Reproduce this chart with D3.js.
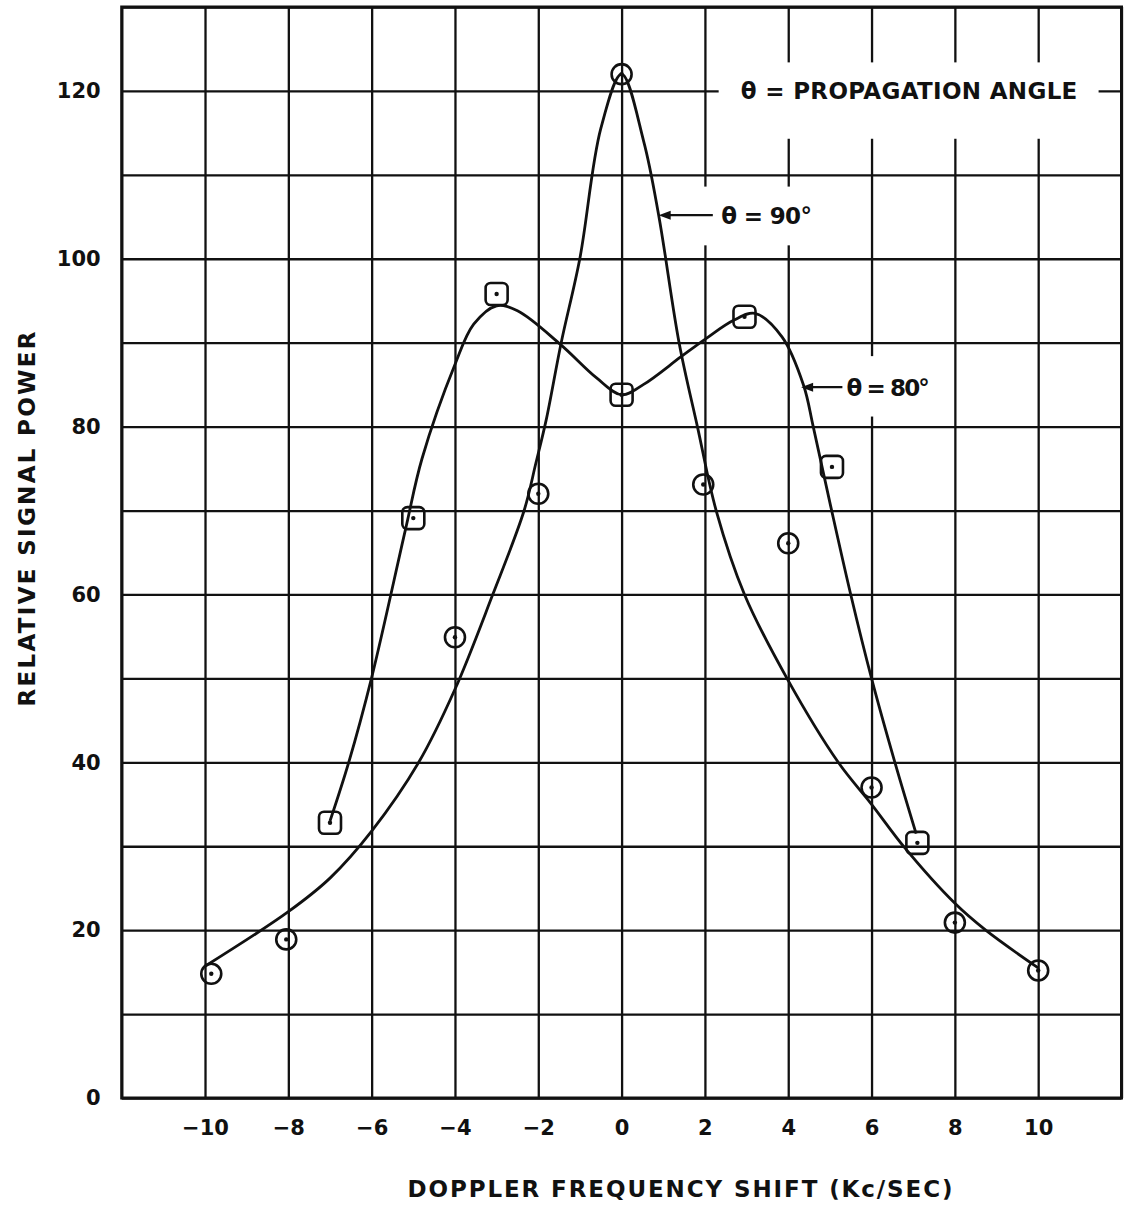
<!DOCTYPE html>
<meta charset="utf-8">
<head>
	<title>Doppler Frequency Shift</title>
	<script type="text/javascript" src="https://cdnjs.cloudflare.com/ajax/libs/d3/7.8.5/d3.min.js"></script>
	<style>
		body { margin: 0; background: #fff; }
		text { font-family: "DejaVu Sans", sans-serif; font-weight: bold; fill: #111; }
	</style>
</head>

<body>
	<div id="chart"></div>

<script>
	var xTicks = [-10, -8, -6, -4, -2, 0, 2, 4, 6, 8, 10];
	var yTicks = [0, 20, 40, 60, 80, 100, 120];

	// theta = 90 deg, plotted points (circles)
	var circlesX = [-9.85, -8.05, -4, -2, 0, 1.96, 4, 6, 8, 10];
	var circlesY = [14.8, 18.9, 54.9, 72, 122, 73.1, 66.1, 37, 20.9, 15.2];

	// theta = 80 deg, plotted points (squares)
	var squaresX = [-7, -5, -3, 0, 2.95, 5.05, 7.1];
	var squaresY = [32.8, 69.1, 95.8, 83.8, 93.1, 75.2, 30.4];

	// hand drawn curves
	var curve90X = [-10, -8, -7, -6, -4.87, -4, -3.1, -2.34, -2.06, -1.81, -1.45, -1.0, -0.5, 0, 0.53, 0.89, 1.38, 1.82, 2.27, 2.95, 3.97, 5.2, 6, 6.8, 8, 8.74, 10];
	var curve90Y = [15.7, 22.2, 26.2, 31.8, 40, 48.7, 59.9, 70, 75.6, 80.8, 90, 100.1, 115.5, 122, 114, 105.2, 90, 80, 70, 60, 50, 40, 35, 29.8, 23.2, 20, 15.5];

	var curve80X = [-7, -6.55, -6, -5.19, -4.79, -4, -3.55, -3, -2.5, -1.47, -0.6, 0, 0.52, 1.42, 2, 2.7, 3.2, 3.85, 4.37, 4.6, 5.02, 5.5, 6, 6.56, 7.07];
	var curve80Y = [33, 40, 50.1, 67.7, 76.2, 87.4, 92.2, 94.4, 93.8, 89.8, 85.8, 83.8, 85, 88.3, 90.4, 92.7, 93.5, 90.7, 84.9, 80, 70.5, 60, 50, 40, 31.5];

	var width = 1126, height = 1206;

	var x = d3.scaleLinear().domain([-12, 12]).range([121.7, 1121.5]);
	var y = d3.scaleLinear().domain([0, 130]).range([1098, 7]);

	var svg = d3.select("#chart").append("svg")
		.attr("width", width)
		.attr("height", height);

	svg.append("rect")
		.attr("width", width)
		.attr("height", height)
		.attr("fill", "#fff");

	// grid
	svg.append("g")
		.attr("class", "grid")
		.attr("transform", "translate(0," + y(0) + ")")
		.call(d3.axisBottom(x).tickValues(d3.range(-12, 13, 2)).tickSize(-(y(0) - y(130))).tickFormat(""));

	svg.append("g")
		.attr("class", "grid")
		.attr("transform", "translate(" + x(-12) + ",0)")
		.call(d3.axisLeft(y).tickValues(d3.range(0, 131, 10)).tickSize(-(x(12) - x(-12))).tickFormat(""));

	svg.selectAll(".grid .domain").remove();
	svg.selectAll(".grid line")
		.attr("stroke", "#111")
		.attr("stroke-width", 2.3);

	// border
	svg.append("rect")
		.attr("x", x(-12))
		.attr("y", y(130))
		.attr("width", x(12) - x(-12))
		.attr("height", y(0) - y(130))
		.attr("fill", "none")
		.attr("stroke", "#111")
		.attr("stroke-width", 3);

	// white patches behind the notes
	var boxes = [[2.33, 11.45, 114.3, 123.4], [1.5, 4.8, 101.6, 108.6], [5.45, 7.6, 81.2, 88.4]];
	svg.selectAll(".notebox")
		.data(boxes)
		.enter().append("rect")
		.attr("class", "notebox")
		.attr("x", function(d) { return x(d[0]); })
		.attr("y", function(d) { return y(d[3]); })
		.attr("width", function(d) { return x(d[1]) - x(d[0]); })
		.attr("height", function(d) { return y(d[2]) - y(d[3]); })
		.attr("fill", "#fff");

	// curves
	var line = d3.line()
		.x(function(d) { return x(d[0]); })
		.y(function(d) { return y(d[1]); })
		.curve(d3.curveCatmullRom.alpha(0.5));

	var curves = [d3.zip(curve90X, curve90Y), d3.zip(curve80X, curve80Y)];

	svg.selectAll(".curve")
		.data(curves)
		.enter().append("path")
		.attr("class", "curve")
		.attr("d", line)
		.attr("fill", "none")
		.attr("stroke", "#111")
		.attr("stroke-width", 2.8);

	// markers
	var circlePts = d3.zip(circlesX, circlesY);
	var squarePts = d3.zip(squaresX, squaresY);

	svg.selectAll(".pt-circle")
		.data(circlePts)
		.enter().append("circle")
		.attr("class", "pt-circle")
		.attr("cx", function(d) { return x(d[0]); })
		.attr("cy", function(d) { return y(d[1]); })
		.attr("r", 10)
		.attr("fill", "none")
		.attr("stroke", "#111")
		.attr("stroke-width", 2.6);

	svg.selectAll(".pt-square")
		.data(squarePts)
		.enter().append("rect")
		.attr("class", "pt-square")
		.attr("x", function(d) { return x(d[0]) - 11; })
		.attr("y", function(d) { return y(d[1]) - 11; })
		.attr("width", 22)
		.attr("height", 22)
		.attr("rx", 5)
		.attr("fill", "none")
		.attr("stroke", "#111")
		.attr("stroke-width", 2.6);

	svg.selectAll(".pt-dot")
		.data(circlePts.concat(squarePts))
		.enter().append("circle")
		.attr("class", "pt-dot")
		.attr("cx", function(d) { return x(d[0]); })
		.attr("cy", function(d) { return y(d[1]); })
		.attr("r", 2.2)
		.attr("fill", "#111");

	// axes labels
	svg.append("g")
		.attr("class", "xaxis")
		.attr("transform", "translate(0," + y(0) + ")")
		.call(d3.axisBottom(x).tickValues(xTicks).tickSize(0).tickPadding(22));

	svg.append("g")
		.attr("class", "yaxis")
		.attr("transform", "translate(" + x(-12) + ",0)")
		.call(d3.axisLeft(y).tickValues(yTicks).tickSize(0).tickPadding(21));

	svg.selectAll(".xaxis .domain, .yaxis .domain").remove();
	svg.selectAll(".xaxis text, .yaxis text")
		.attr("font-family", "DejaVu Sans, sans-serif")
		.attr("font-size", 21)
		.attr("font-weight", "bold")
		.attr("fill", "#111");

	svg.append("text")
		.attr("x", 680)
		.attr("y", 1197)
		.attr("text-anchor", "middle")
		.attr("font-size", 23)
		.attr("textLength", 545)
		.attr("lengthAdjust", "spacing")
		.text("DOPPLER  FREQUENCY  SHIFT  (Kc/SEC)");

	svg.append("text")
		.attr("transform", "translate(35,519) rotate(-90)")
		.attr("text-anchor", "middle")
		.attr("font-size", 23)
		.attr("textLength", 375)
		.attr("lengthAdjust", "spacing")
		.text("RELATIVE  SIGNAL  POWER");

	// notes
	var notes = [
		{ text: "θ = PROPAGATION  ANGLE", x0: 2.86, x1: 10.94, y: 120 },
		{ text: "θ = 90°", x0: 2.39, x1: 4.57, y: 105.2 },
		{ text: "θ = 80°", x0: 5.4, x1: 7.4, y: 84.7 }
	];

	svg.selectAll(".note")
		.data(notes)
		.enter().append("text")
		.attr("class", "note")
		.attr("x", function(d) { return x(d.x0); })
		.attr("y", function(d) { return y(d.y) + 8.5; })
		.attr("font-size", 23)
		.attr("textLength", function(d) { return x(d.x1) - x(d.x0); })
		.attr("lengthAdjust", "spacing")
		.text(function(d) { return d.text; });

	// arrows pointing at the curves
	var arrows = [[0.89, 2.19, 105.2], [4.31, 5.3, 84.7]];

	svg.selectAll(".arrow-line")
		.data(arrows)
		.enter().append("line")
		.attr("class", "arrow-line")
		.attr("x1", function(d) { return x(d[0]) + 4; })
		.attr("x2", function(d) { return x(d[1]); })
		.attr("y1", function(d) { return y(d[2]); })
		.attr("y2", function(d) { return y(d[2]); })
		.attr("stroke", "#111")
		.attr("stroke-width", 2.4);

	svg.selectAll(".arrow-head")
		.data(arrows)
		.enter().append("path")
		.attr("class", "arrow-head")
		.attr("d", function(d) {
			var ax = x(d[0]), ay = y(d[2]);
			return "M" + ax + "," + ay + "L" + (ax + 12) + "," + (ay - 4.5) + "L" + (ax + 12) + "," + (ay + 4.5) + "Z";
		})
		.attr("fill", "#111");
</script>
</body>
